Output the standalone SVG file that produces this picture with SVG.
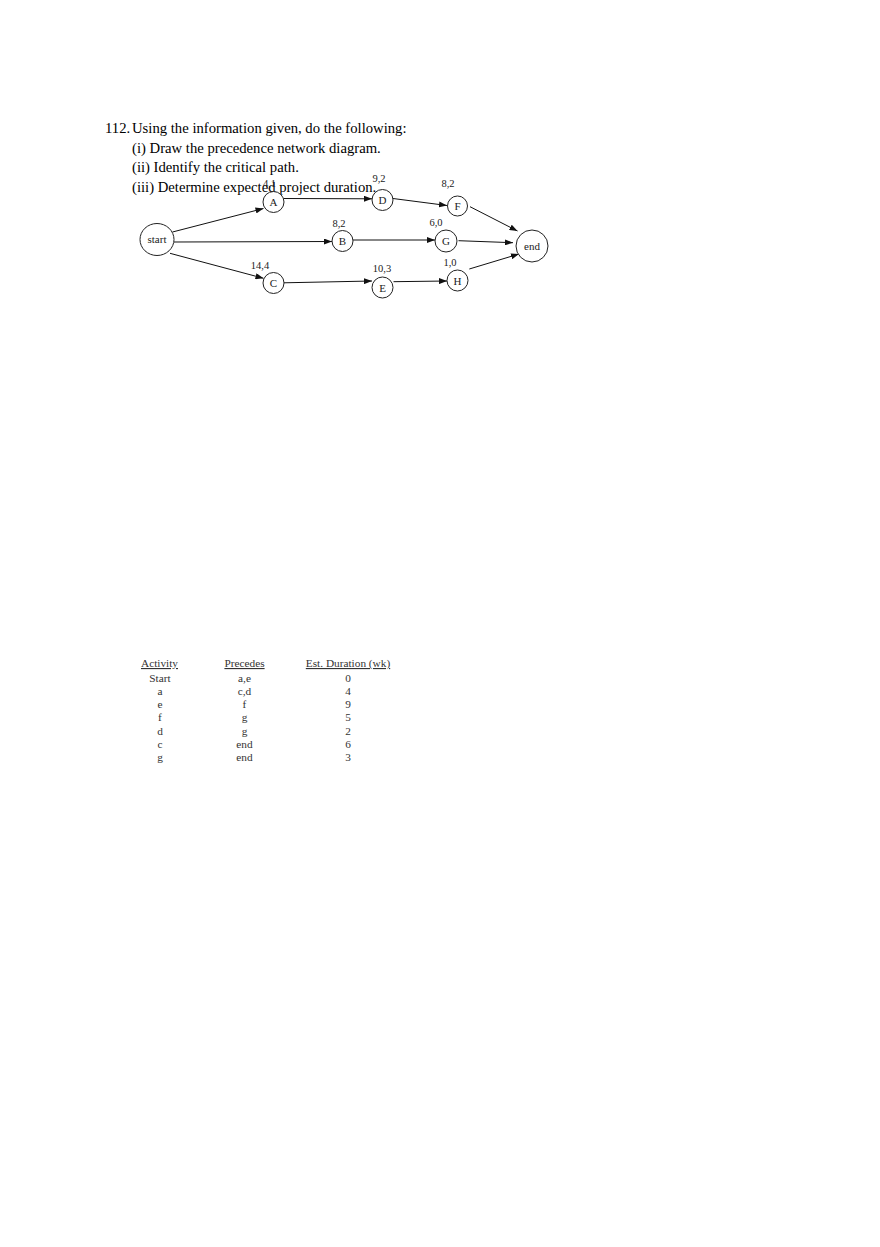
<svg xmlns="http://www.w3.org/2000/svg" width="880" height="1247" viewBox="0 0 880 1247">
<style>
.q{font-family:"Liberation Serif","Times New Roman",serif;font-size:14.7px;fill:#000}
.n{fill:#fff;stroke:#222;stroke-width:1}
.nt{font-family:"Liberation Serif","Times New Roman",serif;font-size:11px;fill:#222;text-anchor:middle}
.lb{font-family:"Liberation Serif","Times New Roman",serif;font-size:10.5px;fill:#222;text-anchor:middle}
.c{stroke:#111;stroke-width:1;fill:none;marker-end:url(#ah)}
.t{font-family:"Liberation Serif","Times New Roman",serif;font-size:11.3px;fill:#333;text-anchor:middle}
.h{text-decoration:underline}
</style>
<defs>
<marker id="ah" markerUnits="userSpaceOnUse" markerWidth="8" markerHeight="6" refX="8" refY="3" orient="auto">
<path d="M0,0 L8,3 L0,6 z" fill="#111"/>
</marker>
</defs>
<rect width="880" height="1247" fill="#fff"/>
<g id="question">
<text class="q" x="105" y="133">112.</text>
<text class="q" x="132" y="133">Using the information given, do the following:</text>
<text class="q" x="132" y="152.5">(i) Draw the precedence network diagram.</text>
<text class="q" x="132" y="172">(ii) Identify the critical path.</text>
<text class="q" x="132" y="191.5">(iii) Determine expected project duration.</text>
</g>
<g id="connectors">
<line class="c" x1="172.5" y1="232" x2="263.5" y2="208.5"/>
<line class="c" x1="283.5" y1="198.5" x2="372" y2="198.8"/>
<line class="c" x1="393" y1="198.5" x2="447" y2="205.5"/>
<line class="c" x1="174" y1="242" x2="332" y2="241.5"/>
<line class="c" x1="353" y1="240" x2="435" y2="240"/>
<line class="c" x1="170" y1="253.3" x2="263.5" y2="278.3"/>
<line class="c" x1="284" y1="282.8" x2="372" y2="281"/>
<line class="c" x1="393.5" y1="281.7" x2="447" y2="281"/>
<line class="c" x1="470" y1="206.7" x2="517.5" y2="231"/>
<line class="c" x1="458.5" y1="240.7" x2="513" y2="242.7"/>
<line class="c" x1="469.3" y1="269" x2="519" y2="254"/>
</g>
<g id="node-start"><ellipse class="n" cx="157" cy="239.5" rx="17" ry="16"/><text class="nt" x="157" y="243">start</text></g>
<g id="node-A"><circle class="n" cx="273.5" cy="202" r="10.5"/><text class="nt" x="273.5" y="206">A</text><text class="lb" x="269.5" y="187">4,1</text></g>
<g id="node-D"><circle class="n" cx="382.5" cy="200" r="10.5"/><text class="nt" x="382.5" y="204">D</text><text class="lb" x="379" y="181.5">9,2</text></g>
<g id="node-F"><circle class="n" cx="457.5" cy="206" r="10"/><text class="nt" x="457.5" y="210">F</text><text class="lb" x="448" y="186.5">8,2</text></g>
<g id="node-B"><circle class="n" cx="342.5" cy="241" r="10.5"/><text class="nt" x="342.5" y="245">B</text><text class="lb" x="339" y="227">8,2</text></g>
<g id="node-G"><circle class="n" cx="446" cy="241" r="11"/><text class="nt" x="446" y="245">G</text><text class="lb" x="436" y="225.5">6,0</text></g>
<g id="node-C"><circle class="n" cx="273.5" cy="283" r="10.5"/><text class="nt" x="273.5" y="287">C</text><text class="lb" x="260" y="268.5">14,4</text></g>
<g id="node-E"><circle class="n" cx="382.5" cy="287.5" r="10.5"/><text class="nt" x="382.5" y="291.5">E</text><text class="lb" x="382" y="272">10,3</text></g>
<g id="node-H"><circle class="n" cx="457.5" cy="280.5" r="10.5"/><text class="nt" x="457.5" y="284.5">H</text><text class="lb" x="450" y="266">1,0</text></g>
<g id="node-end"><circle class="n" cx="532" cy="246" r="16"/><text class="nt" x="532" y="250">end</text></g>
<g id="table">
<text class="t h" x="159.5" y="667">Activity</text>
<text class="t h" x="244.5" y="667">Precedes</text>
<text class="t h" x="348" y="667">Est. Duration (wk)</text>
<text class="t" x="160" y="681.5">Start</text><text class="t" x="244.5" y="681.5">a,e</text><text class="t" x="348" y="681.5">0</text>
<text class="t" x="160" y="694.8">a</text><text class="t" x="244.5" y="694.8">c,d</text><text class="t" x="348" y="694.8">4</text>
<text class="t" x="160" y="708.1">e</text><text class="t" x="244.5" y="708.1">f</text><text class="t" x="348" y="708.1">9</text>
<text class="t" x="160" y="721.4">f</text><text class="t" x="244.5" y="721.4">g</text><text class="t" x="348" y="721.4">5</text>
<text class="t" x="160" y="734.7">d</text><text class="t" x="244.5" y="734.7">g</text><text class="t" x="348" y="734.7">2</text>
<text class="t" x="160" y="748">c</text><text class="t" x="244.5" y="748">end</text><text class="t" x="348" y="748">6</text>
<text class="t" x="160" y="761.3">g</text><text class="t" x="244.5" y="761.3">end</text><text class="t" x="348" y="761.3">3</text>
</g>
</svg>
